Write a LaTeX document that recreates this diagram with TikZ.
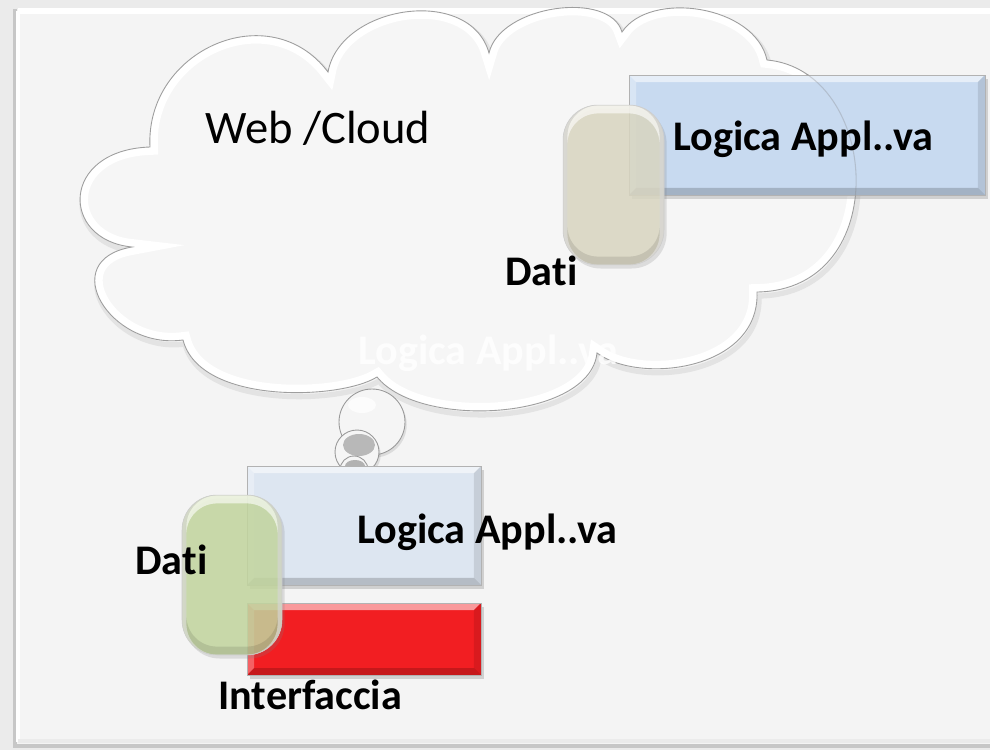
\documentclass[tikz,border=0pt]{standalone}
\usepackage{fontspec}
\setmainfont{Carlito}[Ligatures=NoCommon]
\usetikzlibrary{shadows}
\definecolor{outerbg}{HTML}{EBEBEB}
\definecolor{panelbg}{HTML}{F4F4F4}
\definecolor{cloudbg}{HTML}{F6F6F6}
\definecolor{boxblue}{HTML}{C8DAF0}
\definecolor{boxpale}{HTML}{DDE6F1}
\definecolor{boxred}{HTML}{F21E22}
\definecolor{cyltan}{HTML}{DCD9C3}
\definecolor{cylgreen}{HTML}{C5D89F}
\newcommand\cloudpath{(150,147) .. controls (145,50) and (270,-5) .. (328,72)
  .. controls (340,5) and (470,-15) .. (489,53)
  .. controls (500,5) and (610,-10) .. (622,32)
  .. controls (650,-10) and (755,5) .. (767,60)
  .. controls (880,70) and (895,290) .. (757,292)
  .. controls (760,370) and (640,385) .. (597,353)
  .. controls (590,420) and (420,430) .. (377,377)
  .. controls (340,400) and (200,405) .. (183,340)
  .. controls (110,350) and (55,260) .. (132,247)
  .. controls (60,240) and (60,150) .. (150,147) -- cycle}
\tikzset{
  bevelbox/.style={draw=black!30, line width=0.3pt,
    drop shadow={shadow xshift=1.5pt, shadow yshift=-2pt, opacity=.3},
    path picture={
      \fill[white,opacity=.55] (path picture bounding box.north west) -- (path picture bounding box.north east)
        -- ([shift={(-7,7)}]path picture bounding box.north east) -- ([shift={(7,7)}]path picture bounding box.north west) -- cycle;
      \fill[white,opacity=.3] (path picture bounding box.north west) -- ([shift={(7,7)}]path picture bounding box.north west)
        -- ([shift={(7,-7)}]path picture bounding box.south west) -- (path picture bounding box.south west) -- cycle;
      \fill[black,opacity=.18] (path picture bounding box.south west) -- ([shift={(7,-7)}]path picture bounding box.south west)
        -- ([shift={(-7,-7)}]path picture bounding box.south east) -- (path picture bounding box.south east) -- cycle;
      \fill[black,opacity=.1] (path picture bounding box.south east) -- ([shift={(-7,-7)}]path picture bounding box.south east)
        -- ([shift={(-7,7)}]path picture bounding box.north east) -- (path picture bounding box.north east) -- cycle;
    }},
  cylinder/.style={rounded corners=0.7cm, fill opacity=.82, draw=black!20, line width=0.3pt,
    drop shadow={shadow xshift=1.5pt, shadow yshift=-2pt, opacity=.22},
    path picture={
      \draw[white, opacity=.6, line width=5, rounded corners=0.7cm]
        ([shift={(0,4)}]path picture bounding box.north west) rectangle ([shift={(0,4)}]path picture bounding box.south east);
      \draw[black, opacity=.1, line width=5, rounded corners=0.7cm]
        ([shift={(0,-4)}]path picture bounding box.north west) rectangle ([shift={(0,-4)}]path picture bounding box.south east);
    }},
  lbl/.style={font=\fontsize{24}{28}\selectfont\bfseries, inner sep=0pt, anchor=base west},
  bubble/.style={circle, inner sep=0pt, fill=white!96!black, draw=black!40, line width=0.5pt,
    drop shadow={shadow xshift=1pt, shadow yshift=-1.5pt, opacity=.2}},
}
\begin{document}
\begin{tikzpicture}[x=0.02cm,y=-0.02cm]
\useasboundingbox (0,0) rectangle (990,750);
% background and panel
\fill[outerbg] (0,0) rectangle (990,750);
\fill[panelbg] (15,9) rectangle (1000,745);
\draw[black!22, line width=2] (15,9) -- (15,746) -- (1000,746);
\draw[white, line width=3] (18,11) -- (1000,11);
\draw[white, line width=2] (18,11) -- (18,742);
\draw[black!8, line width=2] (18,741) -- (1000,741);
% cloud
\draw[black!11, line width=3, shift={(2,4)}] \cloudpath;
\fill[cloudbg] \cloudpath;
\begin{scope}
  \clip \cloudpath;
  \draw[white, line width=9] \cloudpath;
\end{scope}
\draw[black!38, line width=0.5pt] \cloudpath;
\node[lbl, text=white, text opacity=.8] (ghost) at (358,364) {Logica Appl..va};
\node[inner sep=0pt, anchor=base west, font=\fontsize{26.5}{30}\selectfont] (web) at (205,143) {Web /Cloud};
% top box and cylinder
\node[bevelbox, fill=boxblue, minimum width=7.12cm, minimum height=2.4cm] (boxtop) at (807,135) {};
\begin{scope}
  \clip (629,75) rectangle (985,195);
  \draw[black!50, opacity=.3, line width=0.6pt] \cloudpath;
\end{scope}
\node[cylinder, fill=cyltan, minimum width=2.02cm, minimum height=3.2cm] (cyltop) at (613.5,185) {};
\node[lbl] (ltop) at (673,151) {Logica Appl..va};
\node[lbl] (dtop) at (505,285) {Dati};
% thought bubbles
\node[bubble, minimum size=1.32cm] (bub1) at (372,422) {};
\fill[white, opacity=.7] (362,405) ellipse (14 and 8);
\node[bubble, minimum size=0.88cm] (bub2) at (357,452) {};
\fill[black!28] (359,445) ellipse (16 and 11);
\node[bubble, minimum size=0.56cm] (bub3) at (354,470) {};
\fill[black!30] (355,466) ellipse (10 and 6);
% lower boxes
\node[bevelbox, fill=boxpale, minimum width=4.68cm, minimum height=2.38cm] (boxlow) at (364,525.5) {};
\node[bevelbox, fill=boxred, minimum width=4.68cm, minimum height=1.44cm] (boxred) at (364,639) {};
\node[cylinder, fill=cylgreen, minimum width=2cm, minimum height=3.2cm] (cyllow) at (232,575) {};
\node[lbl] (llow) at (357,543) {Logica Appl..va};
\node[lbl] (dlow) at (135,574) {Dati};
\node[lbl] (iface) at (218,709) {Interfaccia};
\end{tikzpicture}
\end{document}
